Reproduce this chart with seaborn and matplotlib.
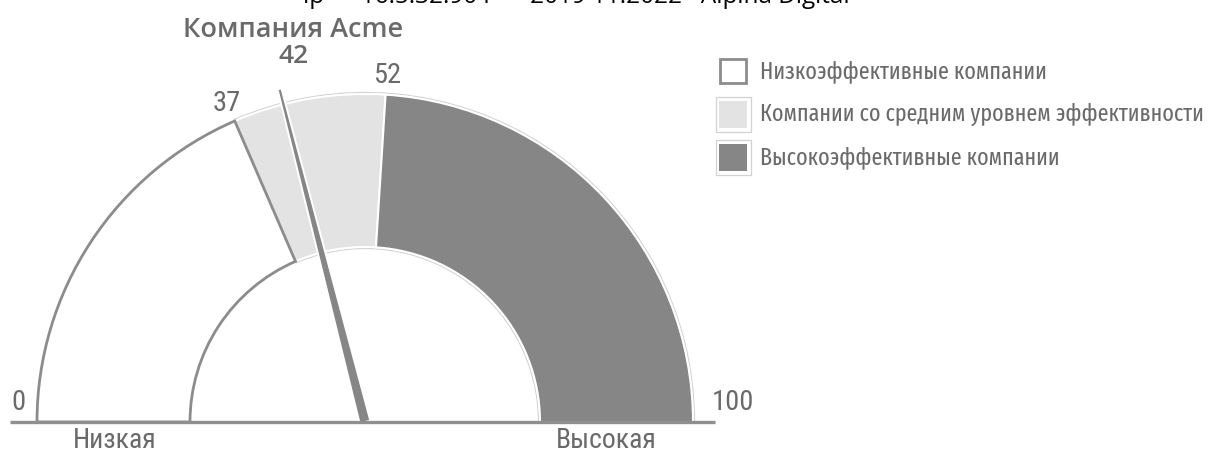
import numpy as np
import matplotlib
matplotlib.use("Agg")
import matplotlib.pyplot as plt
from matplotlib.patches import Wedge, Polygon, Rectangle
import seaborn as sns

# Gauge data
bands = ["Низкоэффективные компании",
         "Компании со средним уровнем эффективности",
         "Высокоэффективные компании"]
band_edges = [0, 37, 52, 100]
company_name = "Компания Acme"
company_score = 42
scale_labels = ["Низкая", "Высокая"]

sns.set_theme(style="white")
plt.rcParams["font.family"] = ["Open Sans", "DejaVu Sans"]
COND = ["Roboto Condensed", "DejaVu Sans"]
XCOND = ["Fira Sans Extra Condensed", "Roboto Condensed", "DejaVu Sans"]

DARK = "#868686"
LIGHT = "#e3e3e3"
EDGE = "#8c8c8c"
FRAME = "#d2d2d2"
TXT = "#6a6a6a"

W, H = 1212, 455
cx, cy = 365, 422          # gauge centre in pixels (from top-left)
R_OUT, R_IN = 328, 175

fig = plt.figure(figsize=(W / 100, H / 100), dpi=100)
ax = fig.add_axes([0, 0, 1, 1])
ax.set_xlim(-cx, W - cx)
ax.set_ylim(-(H - cy), cy)
ax.set_axis_off()


def ang(v):
    return 180 - 1.8 * v


# faint frame around the shaded bands
ax.add_patch(Wedge((0, 0), R_OUT + 1.5, ang(band_edges[3]), ang(band_edges[1]),
                   width=R_OUT - R_IN + 3, facecolor="none", edgecolor=FRAME,
                   linewidth=0.9, zorder=1))
# middle and high bands (white separators)
ax.add_patch(Wedge((0, 0), R_OUT, ang(band_edges[2]), ang(band_edges[1]),
                   width=R_OUT - R_IN, facecolor=LIGHT, edgecolor="white",
                   linewidth=1.5, zorder=2))
ax.add_patch(Wedge((0, 0), R_OUT, ang(band_edges[3]), ang(band_edges[2]),
                   width=R_OUT - R_IN, facecolor=DARK, edgecolor="white",
                   linewidth=1.5, zorder=2))
# low band outlined in grey
ax.add_patch(Wedge((0, 0), R_OUT, ang(band_edges[1]), ang(band_edges[0]),
                   width=R_OUT - R_IN, facecolor="white", edgecolor=EDGE,
                   linewidth=2.0, zorder=3))

# needle
th = np.deg2rad(ang(company_score))
u = np.array([np.cos(th), np.sin(th)])
n = np.array([-u[1], u[0]])
L = 344
pts = [5.5 * n, L * u + 2.0 * n, L * u - 2.0 * n, -5.5 * n]
ax.add_patch(Polygon(pts, closed=True, facecolor=DARK, edgecolor="white",
                     linewidth=1.4, zorder=5))

# baseline
ax.plot([-355, 350], [0, 0], color="#8f8f8f", linewidth=2.4,
        solid_capstyle="butt", zorder=6)

# value labels
num_kw = dict(color=TXT, fontsize=20.5, family=COND, ha="center", va="center")
ax.text(-346.5, 20, str(band_edges[0]), **num_kw)
ax.text(368, 20, str(band_edges[3]), **num_kw)
r_lab = R_OUT + 19
for v in band_edges[1:3]:
    t = np.deg2rad(ang(v))
    ax.text(r_lab * np.cos(t), r_lab * np.sin(t), str(v), **num_kw)
ax.text(-71, 365.5, str(company_score), color=TXT, fontsize=19,
        fontweight="semibold", ha="center", va="center")
ax.text(-71.5, 392, company_name, color=TXT, fontsize=19.5,
        fontweight="semibold", ha="center", va="center")

ax.text(-250, -19, scale_labels[0], color=TXT, fontsize=20,
        family=COND, ha="center", va="center")
ax.text(241, -19, scale_labels[1], color=TXT, fontsize=20,
        family=COND, ha="center", va="center")

# legend
fills = ["white", LIGHT, DARK]
rows = [351, 308, 265]
bx = 368
for lab, fc, y in zip(bands, fills, rows):
    if fc == "white":
        ax.add_patch(Rectangle((bx - 13, y - 12), 26, 24, facecolor="white",
                               edgecolor=EDGE, linewidth=2.0, zorder=4))
    else:
        ax.add_patch(Rectangle((bx - 17.5, y - 17.5), 35, 35, facecolor="white",
                               edgecolor=FRAME, linewidth=0.9, zorder=3))
        ax.add_patch(Rectangle((bx - 14, y - 13.5), 28, 27, facecolor=fc,
                               edgecolor="none", zorder=4))
    ax.text(395, y, lab, color=TXT, fontsize=17.2, family=XCOND,
            ha="left", va="center")

# clipped watermark line at the very top
ax.text(-62, 419, "ıp — 16.5.32.90 r — 2019 11.2022 · Alpina Digital",
        color="black", fontsize=17.5, ha="left", va="baseline")

fig.savefig("out.png", dpi=100)
